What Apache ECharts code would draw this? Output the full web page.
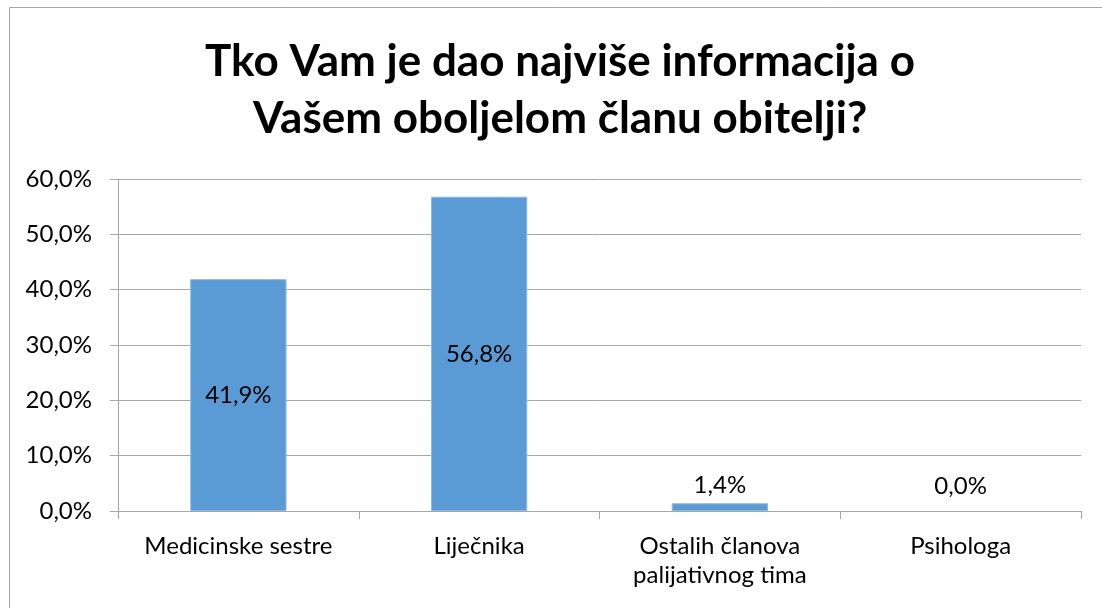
<!DOCTYPE html>
<html>
<head>
<meta charset="utf-8">
<script src="https://cdn.jsdelivr.net/npm/echarts@6/dist/echarts.min.js"></script>
<style>html,body{margin:0;padding:0;background:#fff}#c{width:1102px;height:608px}</style>
</head>
<body>
<div id="c"></div>
<script>
const titleText = 'Tko Vam je dao najviše informacija o\nVašem oboljelom članu obitelji?';
const categories = ['Medicinske sestre', 'Liječnika', 'Ostalih članova\npalijativnog tima', 'Psihologa'];
const values = [41.9, 56.8, 1.4, 0.0];
const labelPositions = ['inside', 'inside', 'top', 'top'];

const font = 'Lato, "Open Sans", sans-serif';
const chart = echarts.init(document.getElementById('c'), null, {renderer: 'canvas'});
const fmt = v => v.toFixed(1).replace('.', ',') + '%';

chart.setOption({
  animation: false,
  backgroundColor: '#fff',
  graphic: [
    {type: 'rect', shape: {x: 9.5, y: 7.5, width: 1100, height: 610}, style: {fill: 'none', stroke: '#A6A6A6', lineWidth: 1}, silent: true},
    {type: 'text', x: 560, y: 33, style: {text: titleText, font: 'bold 44px ' + font, fill: '#000', textAlign: 'center', textVerticalAlign: 'top', lineHeight: 57}}
  ],
  grid: {left: 118, right: 21, top: 179, bottom: 97, containLabel: false},
  xAxis: {
    type: 'category',
    data: categories,
    axisLine: {lineStyle: {color: '#A6A6A6'}},
    axisTick: {show: true, length: 8, lineStyle: {color: '#A6A6A6'}},
    axisLabel: {color: '#000', fontSize: 24, fontFamily: font, margin: 21, lineHeight: 29, interval: 0}
  },
  yAxis: {
    type: 'value',
    min: 0, max: 60, interval: 10,
    axisLine: {show: true, lineStyle: {color: '#A6A6A6'}},
    axisTick: {show: true, length: 8, lineStyle: {color: '#A6A6A6'}},
    splitLine: {lineStyle: {color: '#A6A6A6'}},
    axisLabel: {color: '#000', fontSize: 24, fontFamily: font, margin: 26, formatter: fmt}
  },
  series: [{
    type: 'bar',
    data: values.map((v, i) => ({
      value: v,
      label: {position: labelPositions[i], distance: v === 0 ? 13 : 6},
      itemStyle: v === 0 ? {borderWidth: 0, color: 'rgba(0,0,0,0)'} : {}
    })),
    barWidth: '40%',
    itemStyle: {color: '#5B9BD5', borderColor: '#8DB8E2', borderWidth: 1},
    label: {show: true, color: '#000', fontSize: 24, fontFamily: font, formatter: p => fmt(p.value)}
  }]
});
</script>
</body>
</html>
